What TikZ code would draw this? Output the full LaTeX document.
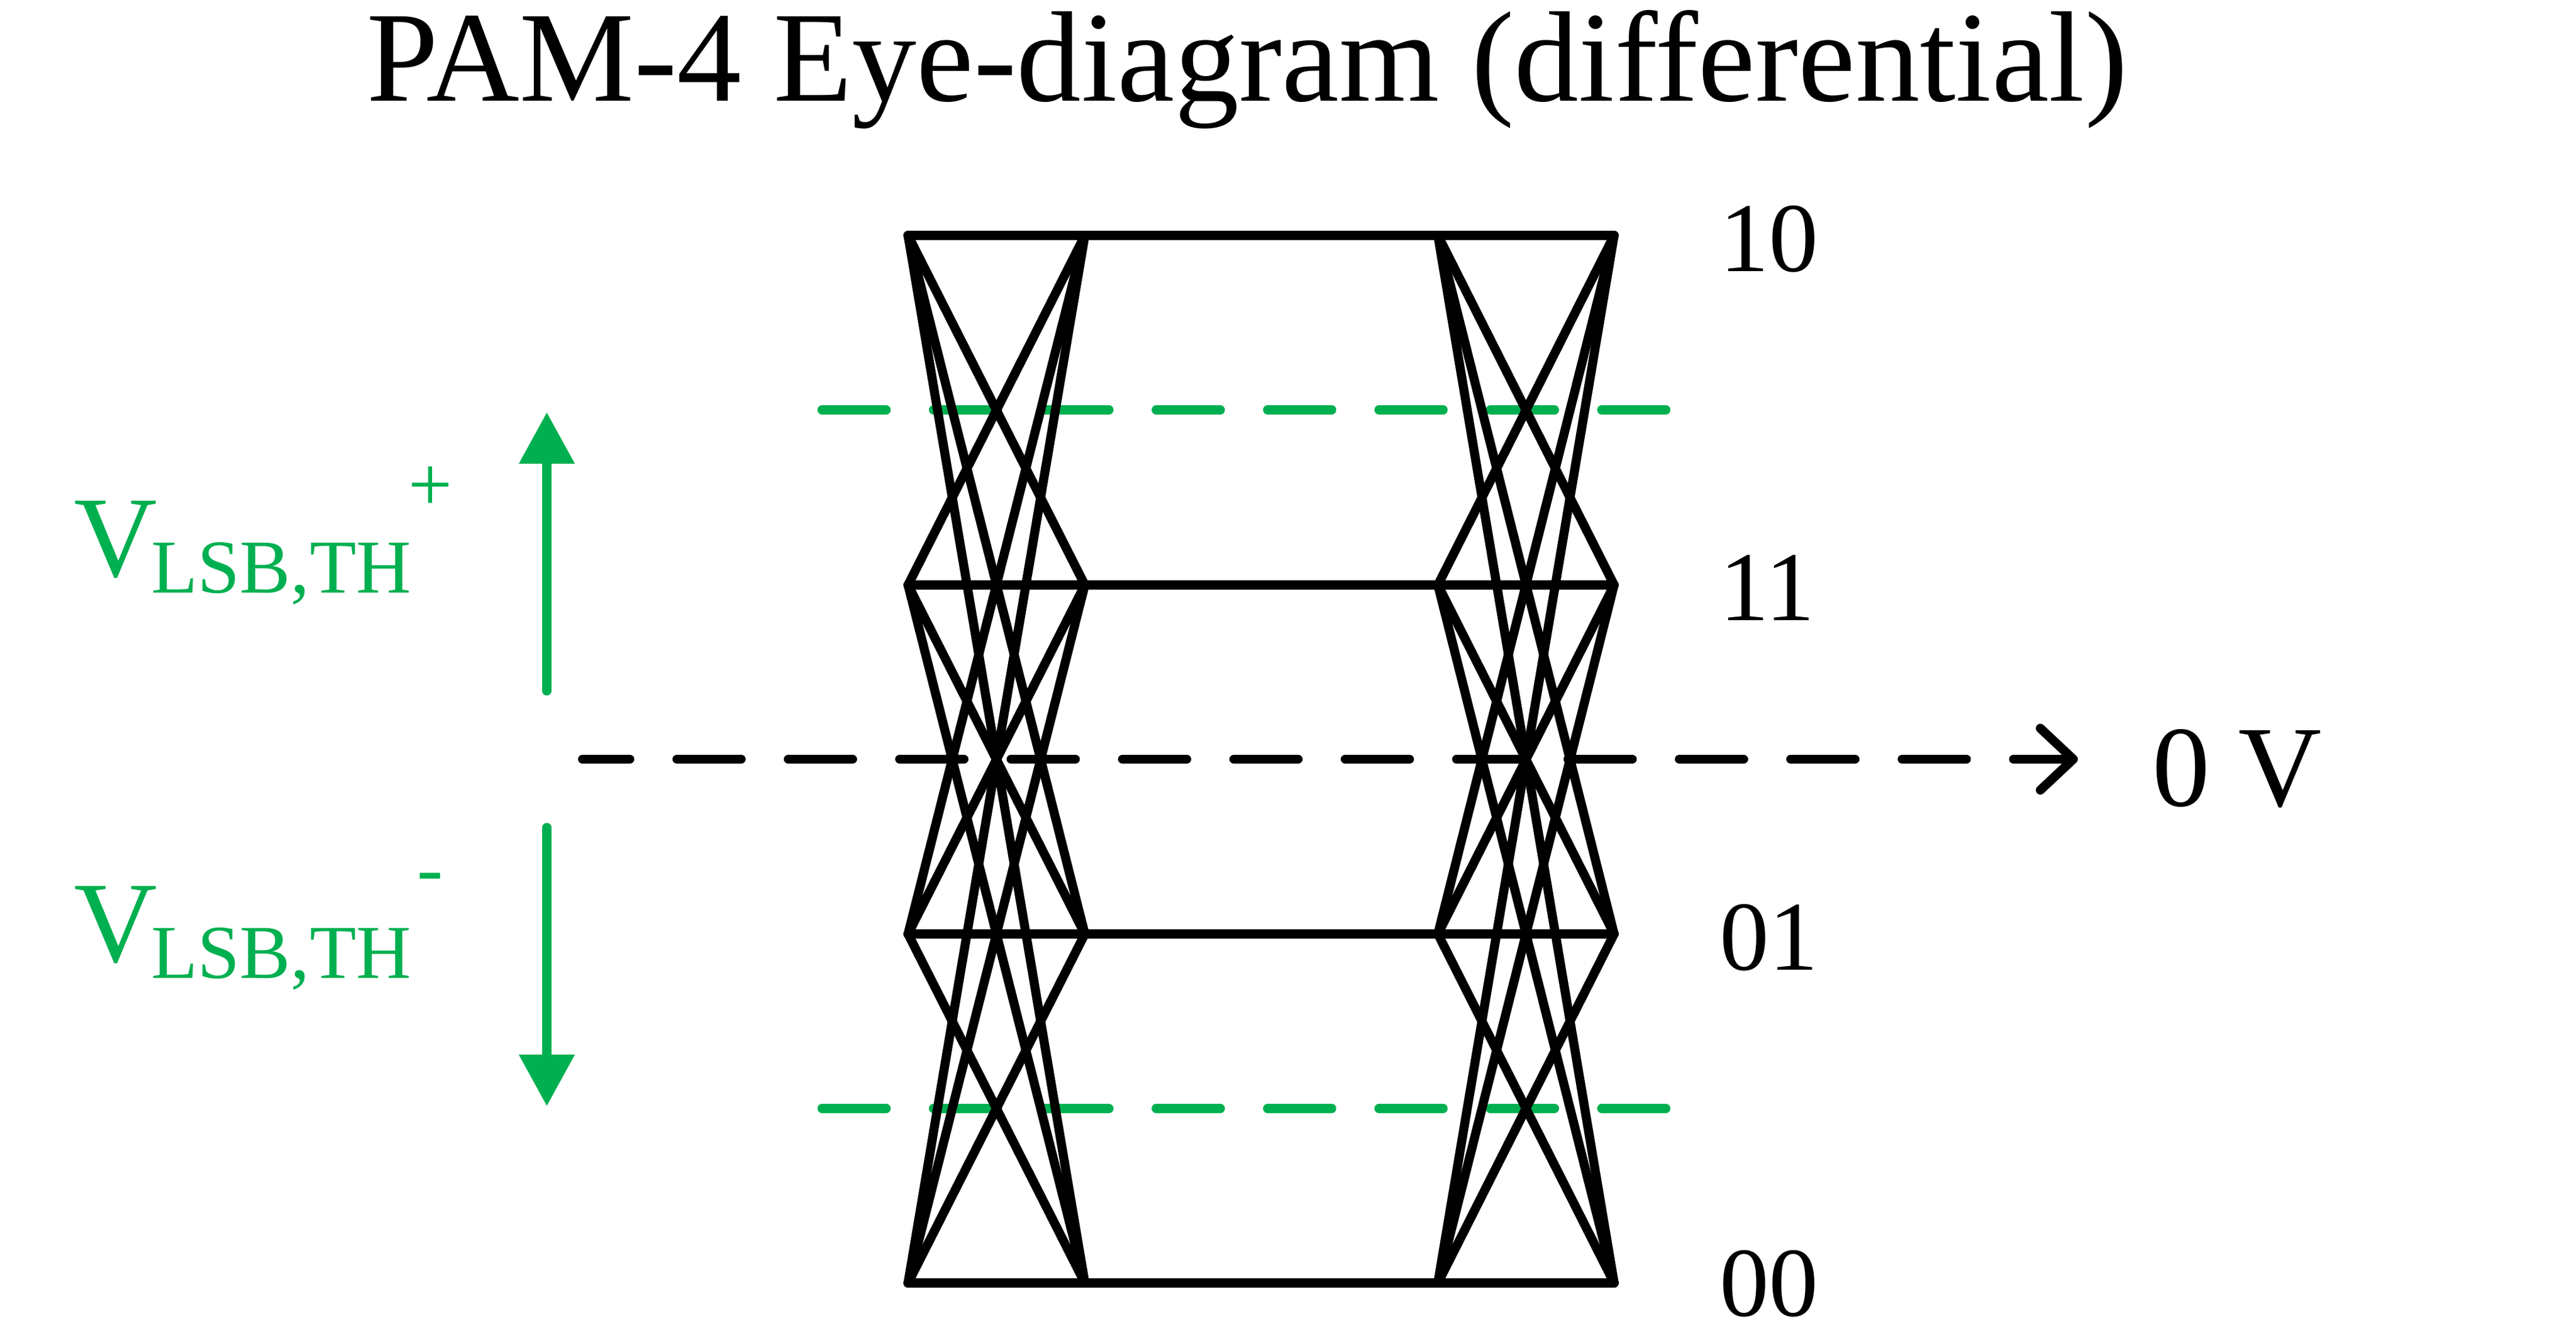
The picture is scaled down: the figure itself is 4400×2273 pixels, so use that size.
\documentclass[tikz,border=0pt]{standalone}
\usepackage{fontspec}
\setmainfont{Liberation Serif}
\usetikzlibrary{arrows.meta}
\definecolor{pgreen}{RGB}{0,176,80}
\begin{document}
\begin{tikzpicture}[x=0.01cm,y=-0.01cm,
  eye/.style={line width=4.4pt,line cap=round,line join=round,black},
  thline/.style={pgreen,line width=4.4pt,line cap=round,dash pattern=on 31.2pt off 22.9pt},
  zline/.style={black,line width=4.4pt,line cap=round,dash pattern=on 31.2pt off 22.9pt,dash phase=8.25pt,
    -{Straight Barb[length=16pt,width=30pt,line cap=round,line join=round]}},
  garrow/.style={pgreen,line width=4.4pt,line cap=round,-{Triangle[length=25pt,width=26pt]}},
  lbl/.style={inner sep=0pt,outer sep=0pt}]
\useasboundingbox (0,0) rectangle (4400,2273);

% title
\node[lbl,anchor=base,font=\fontsize{62.6}{62.6}\selectfont] (title) at (2130,173) {PAM-4 Eye-diagram (differential)};

% threshold lines (behind)
\coordinate (g1s) at (1404,700); \coordinate (g1e) at (2850,700);
\coordinate (g2s) at (1404,1893); \coordinate (g2e) at (2850,1893);
\draw[thline] (g1s) -- (g1e);
\draw[thline] (g2s) -- (g2e);

% 0 V reference line
\coordinate (zs) at (995,1296.5); \coordinate (ze) at (3549,1296.5);
\draw[zline] (zs) -- (ze);
\node[lbl,anchor=base west,font=\fontsize{56}{56}\selectfont] (zv) at (3676,1376) {0 V};

% eye points
\foreach \i/\y in {1/402,2/999,3/1595,4/2191} {
  \coordinate (A\i) at (1551,\y);
  \coordinate (B\i) at (1853,\y);
  \coordinate (C\i) at (2456,\y);
  \coordinate (D\i) at (2757,\y);
}
\foreach \i in {1,...,4} {
  \foreach \j in {1,...,4} {
    \draw[eye] (A\i) -- (B\j);
    \draw[eye] (C\i) -- (D\j);
  }
  \draw[eye] (B\i) -- (C\i);
}

% level labels
\node[lbl,anchor=base west,font=\fontsize{48}{48}\selectfont] (l10) at (2937,463) {10};
\node[lbl,anchor=base west,font=\fontsize{48}{48}\selectfont] (l11) at (2937,1059) {11};
\node[lbl,anchor=base west,font=\fontsize{48}{48}\selectfont] (l01) at (2937,1656) {01};
\node[lbl,anchor=base west,font=\fontsize{48}{48}\selectfont] (l00) at (2937,2247) {00};

% green arrows
\coordinate (ut) at (934,1180); \coordinate (uh) at (934,704);
\coordinate (dt) at (934,1413); \coordinate (dh) at (934,1889);
\draw[garrow] (ut) -- (uh);
\draw[garrow] (dt) -- (dh);

% threshold labels
\node[lbl,anchor=base west,text=pgreen,font=\fontsize{56}{56}\selectfont] (v1) at (126,984) {V};
\node[lbl,anchor=base west,text=pgreen,font=\fontsize{37}{37}\selectfont] (s1) at (258,1012) {LSB,TH};
\node[lbl,anchor=base,text=pgreen,font=\fontsize{38}{38}\selectfont] (p1) at (735,872) {+};
\node[lbl,anchor=base west,text=pgreen,font=\fontsize{56}{56}\selectfont] (v2) at (126,1642) {V};
\node[lbl,anchor=base west,text=pgreen,font=\fontsize{37}{37}\selectfont] (s2) at (258,1670) {LSB,TH};
\node[lbl,anchor=base,text=pgreen,font=\fontsize{38}{38}\selectfont] (m2) at (735,1527) {-};
\end{tikzpicture}
\end{document}
